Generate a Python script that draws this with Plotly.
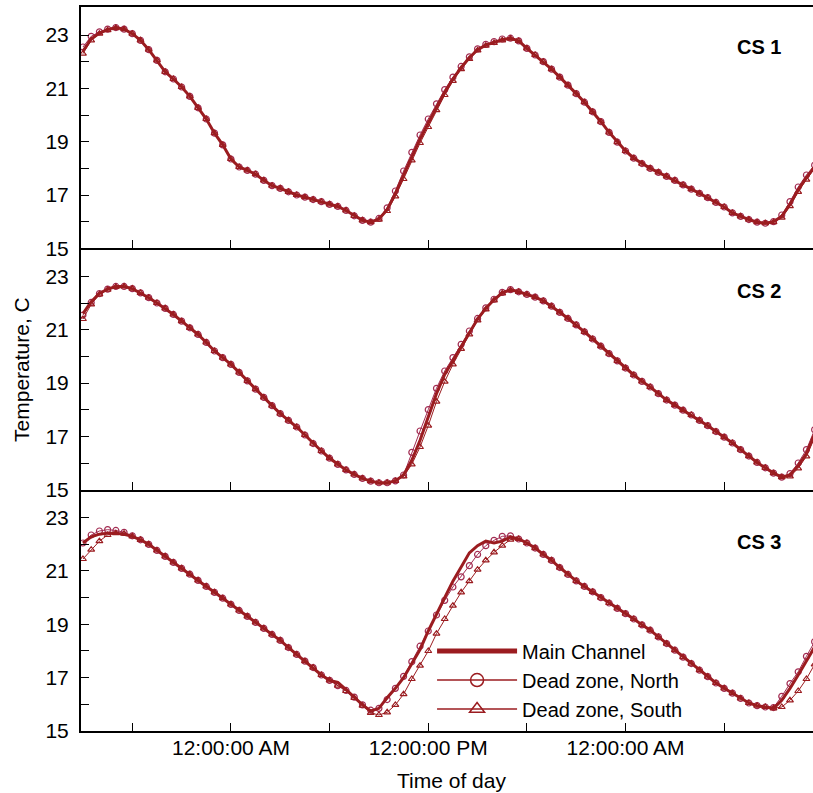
import plotly.graph_objects as go

# sampling times, hours since midnight of day 1 (every 30 min)
hours = [15.0 + 0.5 * i for i in range(90)]

x_tickvals = [18, 24, 30, 36, 42, 48, 54]
x_ticktext = ["", "12:00:00 AM", "", "12:00:00 PM", "", "12:00:00 AM", ""]
y_tickvals = [15, 16, 17, 18, 19, 20, 21, 22, 23]
y_ticktext = ["15", "", "17", "", "19", "", "21", "", "23"]

panel_labels = ["CS 1", "CS 2", "CS 3"]
series_names = ["Main Channel", "Dead zone, North", "Dead zone, South"]

cs1_main = [22.40, 22.85, 23.07, 23.20, 23.28, 23.22, 23.05, 22.80, 22.45, 22.05,
            21.62, 21.35, 21.05, 20.70, 20.27, 19.85, 19.32, 18.88, 18.35, 18.05,
            17.92, 17.78, 17.55, 17.35, 17.25, 17.12, 17.00, 16.92, 16.83, 16.75,
            16.65, 16.57, 16.42, 16.22, 16.05, 15.98, 16.10, 16.45, 17.05, 17.75,
            18.45, 19.10, 19.70, 20.30, 20.85, 21.35, 21.78, 22.15, 22.45, 22.62,
            22.72, 22.82, 22.88, 22.78, 22.50, 22.25, 22.00, 21.72, 21.42, 21.12,
            20.80, 20.48, 20.12, 19.75, 19.35, 18.98, 18.65, 18.38, 18.18, 18.00,
            17.85, 17.70, 17.55, 17.38, 17.22, 17.06, 16.90, 16.72, 16.55, 16.33,
            16.20, 16.08, 15.98, 15.94, 16.00, 16.20, 16.65, 17.20, 17.65, 18.05]
cs1_north = [22.55, 22.95, 23.12, 23.22, 23.28, 23.22, 23.05, 22.80, 22.45, 22.05,
             21.62, 21.35, 21.05, 20.70, 20.27, 19.85, 19.32, 18.88, 18.35, 18.05,
             17.92, 17.78, 17.55, 17.35, 17.25, 17.12, 17.00, 16.92, 16.83, 16.75,
             16.65, 16.57, 16.42, 16.22, 16.05, 15.98, 16.12, 16.52, 17.15, 17.90,
             18.60, 19.25, 19.85, 20.42, 20.95, 21.42, 21.82, 22.18, 22.48, 22.65,
             22.75, 22.85, 22.88, 22.78, 22.50, 22.25, 22.00, 21.72, 21.42, 21.12,
             20.80, 20.48, 20.12, 19.75, 19.35, 18.98, 18.65, 18.38, 18.18, 18.00,
             17.85, 17.70, 17.55, 17.38, 17.22, 17.06, 16.90, 16.72, 16.55, 16.33,
             16.20, 16.08, 15.98, 15.94, 16.00, 16.25, 16.75, 17.30, 17.75, 18.12]
cs1_south = [22.30, 22.80, 23.05, 23.18, 23.26, 23.22, 23.05, 22.80, 22.45, 22.05,
             21.62, 21.35, 21.05, 20.70, 20.27, 19.85, 19.32, 18.88, 18.35, 18.05,
             17.92, 17.78, 17.55, 17.35, 17.25, 17.12, 17.00, 16.92, 16.83, 16.75,
             16.65, 16.57, 16.42, 16.22, 16.05, 15.98, 16.08, 16.40, 16.95, 17.60,
             18.30, 18.95, 19.55, 20.18, 20.75, 21.28, 21.72, 22.10, 22.42, 22.60,
             22.70, 22.80, 22.86, 22.78, 22.50, 22.25, 22.00, 21.72, 21.42, 21.12,
             20.80, 20.48, 20.12, 19.75, 19.35, 18.98, 18.65, 18.38, 18.18, 18.00,
             17.85, 17.70, 17.55, 17.38, 17.22, 17.06, 16.90, 16.72, 16.55, 16.33,
             16.20, 16.08, 15.98, 15.94, 15.98, 16.15, 16.58, 17.12, 17.58, 18.00]

cs2_main = [21.60, 22.05, 22.36, 22.52, 22.62, 22.62, 22.54, 22.38, 22.20, 22.00,
            21.80, 21.57, 21.32, 21.07, 20.82, 20.52, 20.20, 19.95, 19.70, 19.40,
            19.08, 18.77, 18.46, 18.15, 17.85, 17.60, 17.35, 17.05, 16.73, 16.45,
            16.18, 15.95, 15.74, 15.57, 15.42, 15.32, 15.26, 15.26, 15.33, 15.55,
            16.10, 16.85, 17.70, 18.60, 19.32, 19.85, 20.38, 20.90, 21.40, 21.80,
            22.12, 22.38, 22.50, 22.42, 22.32, 22.22, 22.08, 21.88, 21.65, 21.42,
            21.18, 20.92, 20.65, 20.38, 20.10, 19.83, 19.56, 19.30, 19.06, 18.85,
            18.60, 18.36, 18.17, 17.98, 17.80, 17.60, 17.40, 17.18, 16.97, 16.75,
            16.50, 16.26, 16.02, 15.82, 15.62, 15.47, 15.55, 15.90, 16.35, 17.10]
cs2_north = [21.55, 22.02, 22.35, 22.52, 22.62, 22.62, 22.54, 22.38, 22.20, 22.00,
             21.80, 21.57, 21.32, 21.07, 20.82, 20.52, 20.20, 19.95, 19.70, 19.40,
             19.08, 18.77, 18.46, 18.15, 17.85, 17.60, 17.35, 17.05, 16.73, 16.45,
             16.18, 15.95, 15.74, 15.57, 15.42, 15.32, 15.26, 15.26, 15.33, 15.55,
             16.40, 17.20, 18.00, 18.80, 19.45, 19.95, 20.45, 20.95, 21.42, 21.82,
             22.14, 22.40, 22.50, 22.42, 22.32, 22.22, 22.08, 21.88, 21.65, 21.42,
             21.18, 20.92, 20.65, 20.38, 20.10, 19.83, 19.56, 19.30, 19.06, 18.85,
             18.60, 18.36, 18.17, 17.98, 17.80, 17.60, 17.40, 17.18, 16.97, 16.75,
             16.50, 16.26, 16.02, 15.82, 15.62, 15.47, 15.60, 16.00, 16.50, 17.25]
cs2_south = [21.40, 21.95, 22.32, 22.50, 22.60, 22.62, 22.54, 22.38, 22.20, 22.00,
             21.80, 21.57, 21.32, 21.07, 20.82, 20.52, 20.20, 19.95, 19.70, 19.40,
             19.08, 18.77, 18.46, 18.15, 17.85, 17.60, 17.35, 17.05, 16.73, 16.45,
             16.18, 15.95, 15.74, 15.57, 15.42, 15.32, 15.26, 15.26, 15.33, 15.50,
             15.95, 16.60, 17.40, 18.30, 19.05, 19.70, 20.28, 20.82, 21.35, 21.76,
             22.10, 22.36, 22.48, 22.42, 22.32, 22.22, 22.08, 21.88, 21.65, 21.42,
             21.18, 20.92, 20.65, 20.38, 20.10, 19.83, 19.56, 19.30, 19.06, 18.85,
             18.60, 18.36, 18.17, 17.98, 17.80, 17.60, 17.40, 17.18, 16.97, 16.75,
             16.50, 16.26, 16.02, 15.82, 15.62, 15.47, 15.50, 15.80, 16.25, 16.95]

cs3_main = [22.05, 22.28, 22.38, 22.42, 22.42, 22.38, 22.30, 22.17, 22.00, 21.77,
            21.55, 21.32, 21.10, 20.88, 20.65, 20.42, 20.20, 19.98, 19.75, 19.52,
            19.30, 19.07, 18.85, 18.62, 18.40, 18.13, 17.87, 17.62, 17.38, 17.10,
            16.90, 16.82, 16.55, 16.28, 15.98, 15.75, 15.85, 16.25, 16.60, 17.00,
            17.55, 18.05, 18.75, 19.40, 20.00, 20.62, 21.15, 21.68, 21.95, 22.12,
            22.05, 22.12, 22.28, 22.20, 22.05, 21.86, 21.62, 21.40, 21.13, 20.87,
            20.63, 20.42, 20.22, 20.00, 19.80, 19.60, 19.40, 19.20, 18.98, 18.78,
            18.53, 18.28, 18.03, 17.77, 17.53, 17.28, 17.04, 16.80, 16.60, 16.42,
            16.22, 16.05, 15.95, 15.90, 15.85, 16.15, 16.60, 17.10, 17.65, 18.15]
cs3_north = [22.05, 22.35, 22.50, 22.55, 22.52, 22.45, 22.32, 22.17, 22.00, 21.77,
             21.55, 21.32, 21.10, 20.88, 20.65, 20.42, 20.20, 19.98, 19.75, 19.52,
             19.30, 19.07, 18.85, 18.62, 18.40, 18.13, 17.87, 17.62, 17.38, 17.10,
             16.90, 16.70, 16.52, 16.27, 15.98, 15.78, 15.85, 16.18, 16.60, 17.05,
             17.60, 18.18, 18.75, 19.35, 19.90, 20.40, 20.78, 21.20, 21.62, 21.95,
             22.15, 22.30, 22.32, 22.20, 22.05, 21.86, 21.62, 21.40, 21.13, 20.87,
             20.63, 20.42, 20.22, 20.00, 19.80, 19.60, 19.40, 19.20, 18.98, 18.78,
             18.53, 18.28, 18.03, 17.77, 17.53, 17.28, 17.04, 16.80, 16.60, 16.42,
             16.22, 16.05, 15.95, 15.90, 15.88, 16.30, 16.78, 17.22, 17.80, 18.35]
cs3_south = [21.45, 21.80, 22.12, 22.35, 22.42, 22.40, 22.30, 22.17, 22.00, 21.77,
             21.55, 21.32, 21.10, 20.88, 20.65, 20.42, 20.20, 19.98, 19.75, 19.52,
             19.30, 19.07, 18.85, 18.62, 18.40, 18.13, 17.87, 17.62, 17.38, 17.10,
             16.90, 16.70, 16.50, 16.24, 15.95, 15.68, 15.60, 15.70, 15.98, 16.38,
             16.95, 17.45, 18.00, 18.65, 19.20, 19.70, 20.20, 20.62, 21.05, 21.40,
             21.70, 21.95, 22.18, 22.20, 22.05, 21.86, 21.62, 21.40, 21.13, 20.87,
             20.63, 20.42, 20.22, 20.00, 19.80, 19.60, 19.40, 19.20, 18.98, 18.78,
             18.53, 18.28, 18.03, 17.77, 17.53, 17.28, 17.04, 16.80, 16.60, 16.42,
             16.22, 16.05, 15.95, 15.90, 15.85, 15.90, 16.15, 16.50, 16.95, 17.50]

panels = [
    (cs1_main, cs1_north, cs1_south),
    (cs2_main, cs2_north, cs2_south),
    (cs3_main, cs3_north, cs3_south),
]

MAIN_COLOR = "#9B1C20"
NORTH_COLOR = "#A22C52"
SOUTH_COLOR = "#9B1C20"
FONT = "Liberation Sans, Arial, Helvetica, sans-serif"

fig = go.Figure()

for i, (main, north, south) in enumerate(panels):
    ax = "" if i == 0 else str(i + 1)
    xa, ya = "x" + ax, "y" + ax
    fig.add_trace(go.Scatter(
        x=hours, y=north, xaxis=xa, yaxis=ya, mode="lines+markers",
        line=dict(color=NORTH_COLOR, width=1),
        marker=dict(symbol="circle-open", size=6, color=NORTH_COLOR, line=dict(width=1.2)),
        showlegend=False, name=series_names[1]))
    fig.add_trace(go.Scatter(
        x=hours, y=south, xaxis=xa, yaxis=ya, mode="lines+markers",
        line=dict(color=SOUTH_COLOR, width=1),
        marker=dict(symbol="triangle-up-open", size=6, color=SOUTH_COLOR, line=dict(width=1.2)),
        showlegend=False, name=series_names[2]))
    fig.add_trace(go.Scatter(
        x=hours, y=main, xaxis=xa, yaxis=ya, mode="lines",
        line=dict(color=MAIN_COLOR, width=3),
        showlegend=False, name=series_names[0]))

# legend-only entries
fig.add_trace(go.Scatter(x=[None], y=[None], mode="lines", name=series_names[0],
                         line=dict(color=MAIN_COLOR, width=5), xaxis="x3", yaxis="y3"))
fig.add_trace(go.Scatter(x=[None], y=[None], mode="lines+markers", name=series_names[1],
                         line=dict(color=MAIN_COLOR, width=1.5),
                         marker=dict(symbol="circle-open", size=13, color=MAIN_COLOR, line=dict(width=1.5)),
                         xaxis="x3", yaxis="y3"))
fig.add_trace(go.Scatter(x=[None], y=[None], mode="lines+markers", name=series_names[2],
                         line=dict(color=MAIN_COLOR, width=1.5),
                         marker=dict(symbol="triangle-up-open", size=13, color=MAIN_COLOR, line=dict(width=1.5)),
                         xaxis="x3", yaxis="y3"))

xcommon = dict(range=[14.88, 59.4], tickvals=x_tickvals, ticktext=x_ticktext,
               ticks="inside", ticklen=8, tickwidth=1.2, tickcolor="black",
               showline=True, linecolor="black", linewidth=2,
               showgrid=False, zeroline=False,
               tickfont=dict(family=FONT, size=21, color="black"))
ycommon = dict(range=[15, 24.05], tickvals=y_tickvals, ticktext=y_ticktext,
               ticks="inside", ticklen=8, tickwidth=1.2, tickcolor="black",
               showline=True, linecolor="black", linewidth=2,
               showgrid=False, zeroline=False,
               tickfont=dict(family=FONT, size=21, color="black"))

domains = [[2 / 3, 1.0], [1 / 3, 2 / 3], [0.0, 1 / 3]]
layout = dict(
    width=813, height=793,
    margin=dict(l=81, r=0, t=7, b=62),
    plot_bgcolor="white", paper_bgcolor="white",
    font=dict(family=FONT, size=21, color="black"),
    legend=dict(x=0.4796, y=0.1374, xanchor="left", yanchor="top",
                bgcolor="rgba(0,0,0,0)", borderwidth=0, itemwidth=80,
                font=dict(family=FONT, size=20, color="black"),
                tracegroupgap=0),
)
for i in range(3):
    ax = "" if i == 0 else str(i + 1)
    xd = dict(xcommon, domain=[0, 1], anchor="y" + ax)
    if i == 0:
        xd["mirror"] = True
    if i < 2:
        xd["showticklabels"] = False
        xd["matches"] = "x3"
    else:
        xd["ticklabelstandoff"] = -3
    yd = dict(ycommon, domain=domains[i], anchor="x" + ax, ticklabelstandoff=6)
    layout["xaxis" + ax] = xd
    layout["yaxis" + ax] = yd

annotations = []
label_y = [0.945, 0.608, 0.261]
for lab, yy in zip(panel_labels, label_y):
    annotations.append(dict(text="<b>" + lab + "</b>", xref="paper", yref="paper",
                            x=0.926, y=yy, xanchor="center", yanchor="middle",
                            showarrow=False, font=dict(family=FONT, size=20, color="black")))
annotations.append(dict(text="Temperature, C", xref="paper", yref="paper",
                        x=-0.082, y=0.5, xanchor="center", yanchor="middle",
                        textangle=-90, showarrow=False,
                        font=dict(family=FONT, size=21, color="black")))
annotations.append(dict(text="Time of day", xref="paper", yref="paper",
                        x=0.5064, y=-0.068, xanchor="center", yanchor="middle",
                        showarrow=False, font=dict(family=FONT, size=21, color="black")))
layout["annotations"] = annotations

fig.update_layout(**layout)
fig.write_html("out.html")
